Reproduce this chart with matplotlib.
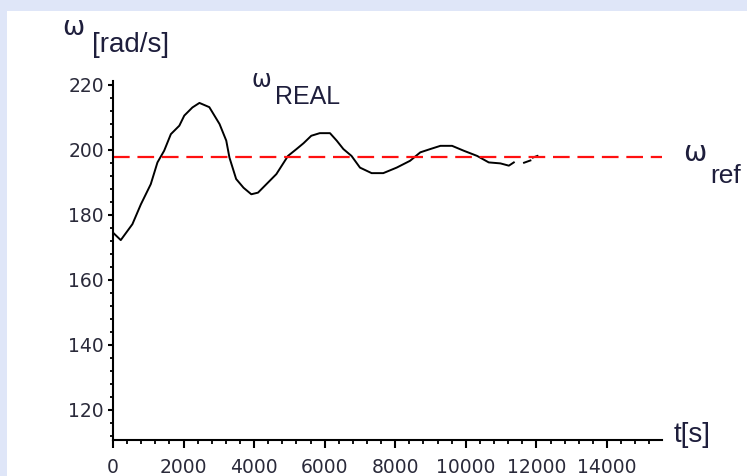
import matplotlib.pyplot as plt
from matplotlib.patches import Rectangle
from matplotlib.ticker import MultipleLocator

# Datos
t = [0, 220, 550, 790, 1070, 1260, 1450, 1640, 1880, 2020, 2250, 2450, 2730,
     3020, 3210, 3300, 3490, 3700, 3920, 4110, 4630, 4960, 5200, 5400, 5620,
     5860, 6150, 6340, 6530, 6760, 7000, 7330, 7660, 8040, 8420, 8710, 8990,
     9280, 9610, 9940, 10320, 10650, 10980, 11220, 11360]
w_real = [174.5, 172.2, 177.1, 183.2, 189.4, 196.1, 199.7, 204.8, 207.4, 210.5,
          213.0, 214.4, 213.1, 207.9, 202.8, 197.6, 191.0, 188.3, 186.3, 186.8,
          192.5, 198.1, 200.2, 202.0, 204.3, 205.1, 205.1, 202.8, 200.2, 198.1,
          194.5, 192.8, 192.8, 194.5, 196.6, 199.2, 200.2, 201.2, 201.2, 199.7,
          198.1, 196.1, 195.8, 195.1, 196.1]

# Tramos finales sueltos
t_tail1 = [11650, 11830]
w_tail1 = [196.0, 196.7]
t_tail2 = [11900, 12030]
w_tail2 = [197.6, 198.1]

w_ref = 197.7
x_max = 15560
y_min, y_max = 110.7, 221.3

W, H = 747, 476
fig = plt.figure(figsize=(W / 100, H / 100), dpi=100)
fig.patch.set_facecolor("#dfe6f8")
fig.patches.append(Rectangle((7 / W, 0), 1 - 7 / W, 1 - 11 / H,
                             transform=fig.transFigure, facecolor="white",
                             edgecolor="none", zorder=-5))

ax = fig.add_axes([113 / W, 1 - 440 / H, (662 - 113) / W, (440 - 80.5) / H])
ax.set_facecolor("none")
ax.set_zorder(2)

ax.plot(t, w_real, color="black", linewidth=1.4)
ax.plot(t_tail1, w_tail1, color="black", linewidth=1.4)
ax.plot(t_tail2, w_tail2, color="black", linewidth=1.4)
ax.plot([0, x_max], [w_ref, w_ref], color="#ff1010", linewidth=1.6,
        dashes=(7.5, 3.5))

ax.set_xlim(0, x_max)
ax.set_ylim(y_min, y_max)

# Ejes estilo Maple
for s in ["top", "right"]:
    ax.spines[s].set_visible(False)
for s in ["left", "bottom"]:
    ax.spines[s].set_linewidth(1.5)

ax.xaxis.set_minor_locator(MultipleLocator(400))
ax.yaxis.set_minor_locator(MultipleLocator(4))
ax.set_xticks(range(0, 14001, 2000))
ax.set_yticks(range(120, 221, 20))

ax.tick_params(axis="x", which="major", length=6, width=1.5, pad=7,
               labelsize=13.5, labelcolor="#2a2a3a")
ax.tick_params(axis="x", which="minor", length=3, width=1.3)
ax.tick_params(axis="y", which="major", length=3.5, width=1.5, pad=3,
               labelsize=13.5, labelcolor="#2a2a3a")
ax.tick_params(axis="y", which="minor", length=2.5, width=1.3)


def label(x, y, s, size, family="Liberation Sans", ha="center"):
    fig.text(x / W, 1 - y / H, s, fontsize=size, family=family, ha=ha,
             va="center", color="#1e1e3c")


# Etiquetas
label(73, 28, "ω", 19, "DejaVu Sans")
label(131, 45, "[rad/s]", 20)
label(261, 80, "ω", 17, "DejaVu Sans")
label(308, 97, "REAL", 18)
label(695, 153, "ω", 20, "DejaVu Sans")
label(710, 176, "ref", 19, ha="left")
label(692, 435, "t[s]", 20)

fig.savefig("out.png", dpi=100, facecolor=fig.get_facecolor())
